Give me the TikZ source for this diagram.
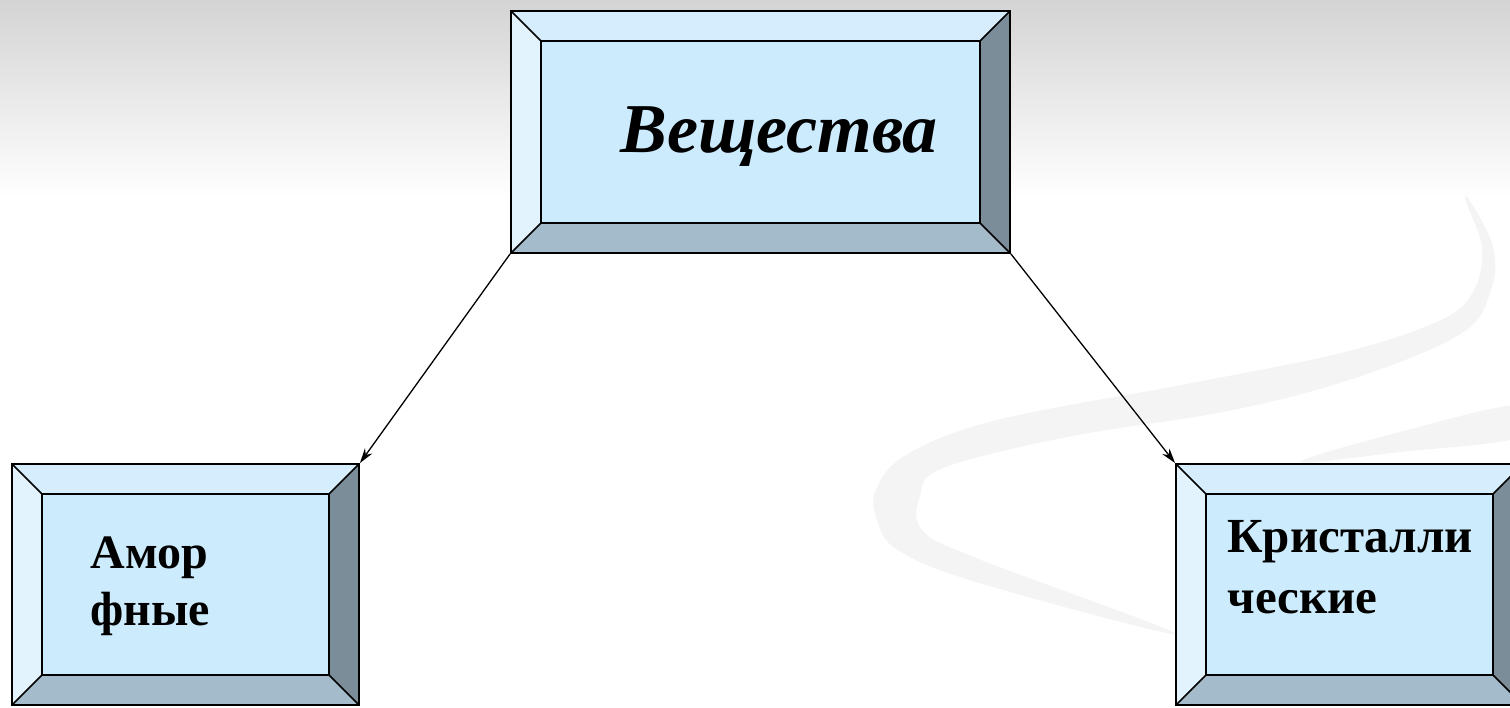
\documentclass[tikz,border=0pt]{standalone}
\usepackage{fontspec}
\setmainfont{Liberation Serif}
\usetikzlibrary{calc,arrows.meta}
\definecolor{bevtop}{HTML}{D5EDFC}
\definecolor{bevleft}{HTML}{E2F3FE}
\definecolor{bevin}{HTML}{CCEBFC}
\definecolor{bevbot}{HTML}{A3BBCA}
\definecolor{bevright}{HTML}{7B8D99}
\definecolor{swoosh}{HTML}{F4F4F4}
\newcommand{\bev}{15pt}
\tikzset{
  bevelbox/.style={draw, line width=0.9pt, fill=bevin, inner sep=0pt,
    path picture={
      \coordinate (nw) at (path picture bounding box.north west);
      \coordinate (ne) at (path picture bounding box.north east);
      \coordinate (sw) at (path picture bounding box.south west);
      \coordinate (se) at (path picture bounding box.south east);
      \coordinate (inw) at ($(nw)+(\bev,-\bev)$);
      \coordinate (ine) at ($(ne)+(-\bev,-\bev)$);
      \coordinate (isw) at ($(sw)+(\bev,\bev)$);
      \coordinate (ise) at ($(se)+(-\bev,\bev)$);
      \fill[bevtop] (nw) -- (ne) -- (ine) -- (inw) -- cycle;
      \fill[bevleft] (nw) -- (inw) -- (isw) -- (sw) -- cycle;
      \fill[bevbot] (sw) -- (isw) -- (ise) -- (se) -- cycle;
      \fill[bevright] (ne) -- (se) -- (ise) -- (ine) -- cycle;
      \draw[line width=0.8pt] (inw) rectangle (ise);
      \draw[line width=0.8pt] (nw) -- (inw) (ne) -- (ine) (sw) -- (isw) (se) -- (ise);
    }},
  boxlabel/.style={font=\bfseries, align=left, inner sep=0pt},
  link/.style={line width=0.65pt, -{Stealth[length=7.5pt,width=4.5pt]}}
}
\begin{document}
\begin{tikzpicture}[x=0.5pt,y=-0.5pt]
  \clip (0,0) rectangle (1510,707);
  % background
  \fill[white] (0,0) rectangle (1510,707);
  \shade[top color=black!17, bottom color=white] (0,0) rectangle (1510,198);
  \fill[swoosh] plot[smooth cycle, tension=0.6] coordinates {
    (1466,202) (1482,247) (1474,290) (1441,320) (1345,352) (1192,383)
    (997,420) (906,455) (876,490) (877,520) (898,550) (976,582) (1176,634)
    (976,558) (922,530) (920,496) (943,468) (1067,437) (1233,410)
    (1358,377) (1462,333) (1491,290) (1493,247) (1470,201)};
  \fill[swoosh] plot[smooth cycle, tension=0.6] coordinates {
    (1300,462) (1400,432) (1520,405) (1520,437) (1400,452)};

  \node[bevelbox, minimum width=249.5pt, minimum height=121pt] (subst) at (760.5,132) {};
  \node[bevelbox, minimum width=173.5pt, minimum height=120.5pt] (amorph) at (185.5,584.5) {};
  \node[bevelbox, minimum width=173.5pt, minimum height=120.5pt] (cryst) at (1349.5,584.5) {};

  \node[font=\bfseries\itshape\fontsize{35}{40}\selectfont, inner sep=0pt, anchor=base west]
    (substtext) at (620,152) {Вещества};
  % base of a two-line label is its last line
  \node[boxlabel, font=\bfseries\fontsize{24}{28.5}\selectfont, anchor=base west]
    (amorphtext) at (90,625) {Амор\\фные};
  \node[boxlabel, font=\bfseries\fontsize{24.5}{30.5}\selectfont, anchor=base west]
    (crysttext) at (1227,613) {Кристалли\\ческие};

  \draw[link] (subst.south west) -- (amorph.north east);
  \draw[link] (subst.south east) -- (cryst.north west);
\end{tikzpicture}
\end{document}
